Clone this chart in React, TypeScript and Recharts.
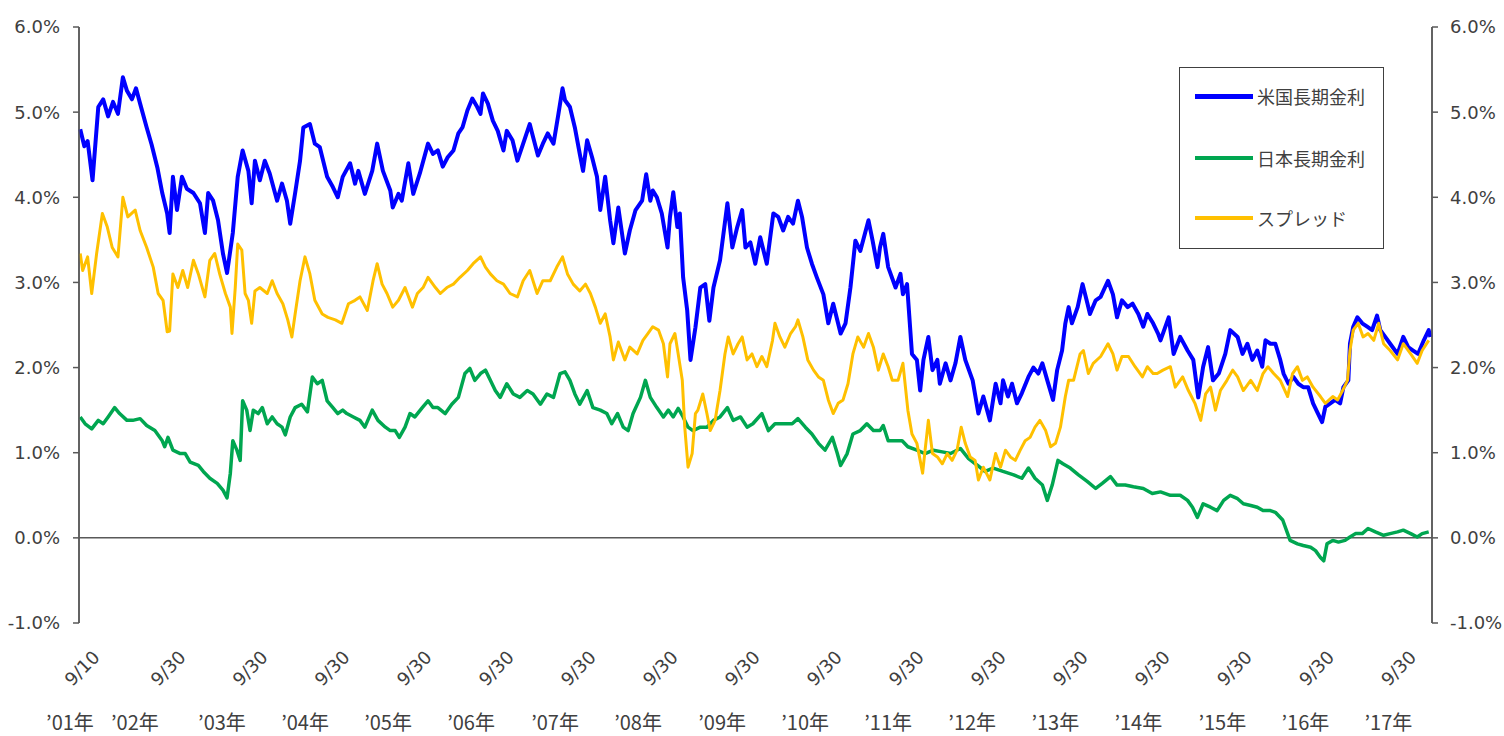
import React from "react";
import { LineChart, Line, XAxis, YAxis, ReferenceLine, Legend } from "recharts";

// 米国長期金利 [year, %]
const usRates: [number, number][] = [
  [2001.68, 4.8], [2001.73, 4.6], [2001.77, 4.66], [2001.83, 4.2], [2001.9, 5.06], [2001.96, 5.15],
  [2002.02, 4.95], [2002.08, 5.12], [2002.14, 4.98], [2002.2, 5.41], [2002.25, 5.25], [2002.31, 5.15],
  [2002.36, 5.28], [2002.41, 5.1], [2002.49, 4.82], [2002.55, 4.62], [2002.62, 4.35], [2002.68, 4.05],
  [2002.74, 3.81], [2002.77, 3.58], [2002.81, 4.24], [2002.86, 3.85], [2002.92, 4.24], [2002.98, 4.1],
  [2003.06, 4.05], [2003.14, 3.93], [2003.2, 3.58], [2003.24, 4.05], [2003.3, 3.96], [2003.36, 3.73],
  [2003.42, 3.34], [2003.47, 3.11], [2003.54, 3.58], [2003.6, 4.24], [2003.66, 4.55], [2003.73, 4.31],
  [2003.77, 3.93], [2003.81, 4.43], [2003.87, 4.2], [2003.93, 4.43], [2003.99, 4.28], [2004.08, 3.96],
  [2004.14, 4.16], [2004.2, 3.96], [2004.24, 3.69], [2004.3, 4.05], [2004.36, 4.43], [2004.4, 4.82],
  [2004.48, 4.86], [2004.54, 4.63], [2004.6, 4.59], [2004.69, 4.24], [2004.76, 4.12], [2004.82, 4.0],
  [2004.88, 4.24], [2004.97, 4.4], [2005.03, 4.16], [2005.07, 4.31], [2005.15, 4.04], [2005.24, 4.31],
  [2005.3, 4.63], [2005.37, 4.31], [2005.46, 4.08], [2005.49, 3.88], [2005.56, 4.04], [2005.6, 3.96],
  [2005.68, 4.4], [2005.74, 4.04], [2005.82, 4.28], [2005.92, 4.63], [2005.98, 4.51], [2006.04, 4.55],
  [2006.1, 4.36], [2006.16, 4.47], [2006.23, 4.55], [2006.29, 4.75], [2006.34, 4.82], [2006.4, 5.02],
  [2006.46, 5.16], [2006.52, 5.06], [2006.56, 4.98], [2006.59, 5.22], [2006.65, 5.1], [2006.71, 4.9],
  [2006.77, 4.78], [2006.84, 4.55], [2006.88, 4.78], [2006.95, 4.67], [2007.01, 4.43], [2007.08, 4.63],
  [2007.16, 4.86], [2007.2, 4.71], [2007.26, 4.49], [2007.32, 4.63], [2007.38, 4.75], [2007.45, 4.63],
  [2007.51, 4.98], [2007.56, 5.28], [2007.59, 5.14], [2007.65, 5.06], [2007.71, 4.82], [2007.77, 4.51],
  [2007.81, 4.31], [2007.86, 4.67], [2007.92, 4.47], [2007.98, 4.24], [2008.02, 3.85], [2008.08, 4.24],
  [2008.14, 3.73], [2008.18, 3.46], [2008.24, 3.88], [2008.32, 3.34], [2008.38, 3.61], [2008.45, 3.85],
  [2008.53, 3.96], [2008.58, 4.27], [2008.63, 3.96], [2008.66, 4.08], [2008.71, 4.0], [2008.77, 3.81],
  [2008.84, 3.41], [2008.87, 3.77], [2008.91, 4.06], [2008.96, 3.65], [2008.99, 3.81], [2009.03, 3.06],
  [2009.08, 2.67], [2009.12, 2.09], [2009.18, 2.47], [2009.24, 2.94], [2009.3, 2.98], [2009.35, 2.55],
  [2009.4, 2.94], [2009.48, 3.26], [2009.57, 3.93], [2009.63, 3.41], [2009.69, 3.65], [2009.75, 3.85],
  [2009.79, 3.41], [2009.85, 3.47], [2009.91, 3.22], [2009.97, 3.53], [2010.05, 3.22], [2010.13, 3.81],
  [2010.19, 3.77], [2010.25, 3.61], [2010.31, 3.77], [2010.37, 3.69], [2010.43, 3.96], [2010.48, 3.77],
  [2010.54, 3.41], [2010.6, 3.22], [2010.66, 3.06], [2010.74, 2.86], [2010.8, 2.52], [2010.86, 2.75],
  [2010.95, 2.4], [2011.01, 2.52], [2011.07, 2.94], [2011.13, 3.49], [2011.19, 3.37], [2011.29, 3.73],
  [2011.34, 3.49], [2011.4, 3.18], [2011.43, 3.41], [2011.47, 3.57], [2011.53, 3.18], [2011.62, 2.94],
  [2011.68, 3.1], [2011.71, 2.86], [2011.76, 2.98], [2011.82, 2.16], [2011.88, 2.09], [2011.92, 1.73],
  [2011.96, 2.09], [2012.02, 2.36], [2012.07, 1.97], [2012.13, 2.09], [2012.16, 1.81], [2012.23, 2.05],
  [2012.29, 1.85], [2012.35, 2.05], [2012.41, 2.36], [2012.47, 2.09], [2012.56, 1.85], [2012.63, 1.46],
  [2012.69, 1.66], [2012.77, 1.38], [2012.84, 1.81], [2012.9, 1.58], [2012.93, 1.85], [2012.99, 1.66],
  [2013.04, 1.81], [2013.1, 1.58], [2013.16, 1.7], [2013.24, 1.89], [2013.3, 2.0], [2013.36, 1.93],
  [2013.41, 2.05], [2013.47, 1.85], [2013.54, 1.62], [2013.59, 1.97], [2013.65, 2.2], [2013.69, 2.52],
  [2013.73, 2.71], [2013.77, 2.52], [2013.84, 2.71], [2013.9, 2.98], [2013.96, 2.75], [2013.99, 2.63],
  [2014.06, 2.79], [2014.12, 2.83], [2014.21, 3.02], [2014.27, 2.86], [2014.32, 2.59], [2014.38, 2.79],
  [2014.45, 2.71], [2014.51, 2.75], [2014.58, 2.63], [2014.64, 2.48], [2014.69, 2.63], [2014.76, 2.52],
  [2014.82, 2.4], [2014.85, 2.32], [2014.95, 2.59], [2015.01, 2.16], [2015.09, 2.36], [2015.18, 2.2],
  [2015.25, 2.09], [2015.31, 1.65], [2015.37, 2.01], [2015.43, 2.24], [2015.49, 1.85], [2015.56, 1.93],
  [2015.64, 2.16], [2015.7, 2.44], [2015.79, 2.36], [2015.85, 2.16], [2015.91, 2.28], [2015.97, 2.09],
  [2016.03, 2.2], [2016.09, 2.01], [2016.13, 2.32], [2016.19, 2.28], [2016.25, 2.28], [2016.31, 2.09],
  [2016.35, 1.93], [2016.41, 1.81], [2016.47, 1.89], [2016.53, 1.81], [2016.59, 1.77], [2016.65, 1.77],
  [2016.71, 1.58], [2016.77, 1.46], [2016.82, 1.36], [2016.86, 1.54], [2016.92, 1.58], [2016.98, 1.62],
  [2017.04, 1.58], [2017.08, 1.77], [2017.14, 1.85], [2017.16, 2.28], [2017.2, 2.48], [2017.25, 2.59],
  [2017.31, 2.52], [2017.37, 2.48], [2017.43, 2.44], [2017.49, 2.61], [2017.53, 2.44], [2017.59, 2.36],
  [2017.65, 2.28], [2017.74, 2.16], [2017.81, 2.36], [2017.87, 2.24], [2017.93, 2.2], [2017.99, 2.16],
  [2018.06, 2.32], [2018.12, 2.44], [2018.14, 2.36],
];

// 日本長期金利 [year, %]
const jpRates: [number, number][] = [
  [2001.68, 1.42], [2001.74, 1.34], [2001.82, 1.28], [2001.9, 1.38], [2001.96, 1.34], [2002.02, 1.42],
  [2002.1, 1.53], [2002.16, 1.46], [2002.25, 1.38], [2002.32, 1.38], [2002.41, 1.4], [2002.49, 1.32],
  [2002.59, 1.26], [2002.68, 1.14], [2002.71, 1.07], [2002.75, 1.18], [2002.81, 1.03], [2002.9, 0.99],
  [2002.96, 0.99], [2003.02, 0.89], [2003.12, 0.85], [2003.18, 0.78], [2003.26, 0.7], [2003.35, 0.64],
  [2003.42, 0.56], [2003.47, 0.47], [2003.51, 0.76], [2003.54, 1.14], [2003.59, 1.03], [2003.63, 0.91],
  [2003.66, 1.61], [2003.71, 1.5], [2003.75, 1.26], [2003.79, 1.5], [2003.85, 1.46], [2003.9, 1.53],
  [2003.96, 1.34], [2004.02, 1.42], [2004.08, 1.34], [2004.14, 1.3], [2004.18, 1.21], [2004.24, 1.42],
  [2004.3, 1.53], [2004.38, 1.57], [2004.45, 1.48], [2004.51, 1.89], [2004.57, 1.81], [2004.63, 1.85],
  [2004.69, 1.61], [2004.76, 1.53], [2004.82, 1.46], [2004.88, 1.5], [2004.93, 1.46], [2005.01, 1.42],
  [2005.09, 1.38], [2005.15, 1.3], [2005.24, 1.5], [2005.31, 1.38], [2005.4, 1.3], [2005.46, 1.26],
  [2005.52, 1.26], [2005.57, 1.18], [2005.64, 1.3], [2005.7, 1.46], [2005.76, 1.42], [2005.85, 1.53],
  [2005.92, 1.61], [2005.98, 1.53], [2006.04, 1.53], [2006.13, 1.46], [2006.21, 1.57], [2006.29, 1.65],
  [2006.37, 1.93], [2006.43, 1.99], [2006.49, 1.85], [2006.56, 1.93], [2006.62, 1.97], [2006.68, 1.85],
  [2006.74, 1.73], [2006.8, 1.65], [2006.88, 1.81], [2006.96, 1.69], [2007.04, 1.65], [2007.13, 1.73],
  [2007.2, 1.69], [2007.29, 1.57], [2007.37, 1.69], [2007.45, 1.65], [2007.53, 1.93], [2007.59, 1.95],
  [2007.65, 1.85], [2007.71, 1.69], [2007.77, 1.57], [2007.86, 1.73], [2007.93, 1.53], [2008.02, 1.5],
  [2008.1, 1.46], [2008.16, 1.34], [2008.23, 1.46], [2008.3, 1.3], [2008.36, 1.26], [2008.42, 1.46],
  [2008.51, 1.65], [2008.57, 1.85], [2008.63, 1.65], [2008.71, 1.53], [2008.79, 1.42], [2008.85, 1.5],
  [2008.91, 1.42], [2008.97, 1.52], [2009.03, 1.42], [2009.09, 1.3], [2009.15, 1.26], [2009.24, 1.3],
  [2009.32, 1.3], [2009.4, 1.38], [2009.48, 1.42], [2009.57, 1.53], [2009.64, 1.38], [2009.73, 1.42],
  [2009.81, 1.3], [2009.88, 1.34], [2009.99, 1.46], [2010.07, 1.26], [2010.15, 1.34], [2010.25, 1.34],
  [2010.36, 1.34], [2010.43, 1.4], [2010.52, 1.3], [2010.6, 1.22], [2010.68, 1.11], [2010.76, 1.03],
  [2010.85, 1.18], [2010.91, 0.99], [2010.95, 0.85], [2011.03, 0.99], [2011.1, 1.22], [2011.19, 1.26],
  [2011.27, 1.34], [2011.35, 1.26], [2011.43, 1.26], [2011.47, 1.32], [2011.53, 1.14], [2011.62, 1.14],
  [2011.7, 1.14], [2011.77, 1.07], [2011.88, 1.03], [2011.98, 0.99], [2012.08, 1.03], [2012.19, 1.01],
  [2012.29, 0.99], [2012.41, 1.05], [2012.51, 0.93], [2012.62, 0.85], [2012.71, 0.78], [2012.81, 0.82],
  [2012.93, 0.78], [2013.06, 0.74], [2013.16, 0.7], [2013.24, 0.82], [2013.32, 0.7], [2013.41, 0.62],
  [2013.47, 0.44], [2013.53, 0.62], [2013.6, 0.91], [2013.66, 0.87], [2013.75, 0.82], [2013.85, 0.74],
  [2013.96, 0.66], [2014.06, 0.58], [2014.14, 0.64], [2014.24, 0.72], [2014.32, 0.62], [2014.42, 0.62],
  [2014.52, 0.6], [2014.64, 0.58], [2014.75, 0.52], [2014.85, 0.54], [2014.97, 0.5], [2015.09, 0.5],
  [2015.18, 0.44], [2015.24, 0.36], [2015.3, 0.24], [2015.37, 0.4], [2015.46, 0.36], [2015.54, 0.32],
  [2015.62, 0.44], [2015.7, 0.5], [2015.79, 0.46], [2015.86, 0.4], [2015.95, 0.38], [2016.03, 0.36],
  [2016.1, 0.32], [2016.19, 0.32], [2016.25, 0.3], [2016.34, 0.21], [2016.4, 0.05], [2016.43, -0.03],
  [2016.52, -0.07], [2016.59, -0.09], [2016.68, -0.11], [2016.74, -0.15], [2016.8, -0.23], [2016.84, -0.27],
  [2016.88, -0.07], [2016.95, -0.03], [2017.02, -0.05], [2017.1, -0.03], [2017.16, 0.01], [2017.23, 0.05],
  [2017.31, 0.05], [2017.38, 0.11], [2017.47, 0.07], [2017.57, 0.03], [2017.65, 0.05], [2017.74, 0.07],
  [2017.81, 0.09], [2017.9, 0.05], [2017.98, 0.01], [2018.04, 0.05], [2018.12, 0.07],
];

// スプレッド [year, %] (secondary axis)
const spreadRates: [number, number][] = [
  [2001.68, 3.34], [2001.71, 3.14], [2001.77, 3.3], [2001.82, 2.87], [2001.88, 3.34], [2001.95, 3.81],
  [2002.01, 3.65], [2002.07, 3.41], [2002.14, 3.3], [2002.2, 4.0], [2002.26, 3.77], [2002.35, 3.85],
  [2002.41, 3.61], [2002.49, 3.41], [2002.57, 3.18], [2002.63, 2.87], [2002.69, 2.79], [2002.74, 2.42],
  [2002.77, 2.43], [2002.81, 3.1], [2002.87, 2.94], [2002.93, 3.14], [2002.99, 2.94], [2003.06, 3.26],
  [2003.12, 3.1], [2003.2, 2.83], [2003.26, 3.26], [2003.32, 3.34], [2003.38, 3.1], [2003.45, 2.87],
  [2003.51, 2.71], [2003.53, 2.4], [2003.57, 2.94], [2003.6, 3.45], [2003.65, 3.38], [2003.69, 2.87],
  [2003.73, 2.79], [2003.77, 2.52], [2003.81, 2.9], [2003.87, 2.94], [2003.96, 2.87], [2004.02, 3.02],
  [2004.08, 2.87], [2004.15, 2.75], [2004.21, 2.56], [2004.26, 2.36], [2004.3, 2.63], [2004.36, 3.02],
  [2004.42, 3.3], [2004.48, 3.1], [2004.54, 2.79], [2004.63, 2.63], [2004.7, 2.59], [2004.79, 2.56],
  [2004.87, 2.52], [2004.95, 2.75], [2005.03, 2.79], [2005.09, 2.83], [2005.18, 2.67], [2005.25, 3.02],
  [2005.3, 3.22], [2005.36, 2.98], [2005.42, 2.87], [2005.49, 2.71], [2005.56, 2.79], [2005.64, 2.94],
  [2005.73, 2.71], [2005.79, 2.87], [2005.86, 2.94], [2005.92, 3.06], [2006.01, 2.94], [2006.07, 2.87],
  [2006.15, 2.94], [2006.23, 2.98], [2006.31, 3.06], [2006.4, 3.14], [2006.47, 3.22], [2006.56, 3.3],
  [2006.62, 3.18], [2006.68, 3.1], [2006.76, 3.02], [2006.84, 2.98], [2006.92, 2.87], [2007.01, 2.83],
  [2007.08, 3.02], [2007.16, 3.14], [2007.25, 2.87], [2007.32, 3.02], [2007.41, 3.02], [2007.49, 3.18],
  [2007.56, 3.3], [2007.62, 3.1], [2007.69, 2.98], [2007.77, 2.9], [2007.84, 2.98], [2007.9, 2.87],
  [2007.96, 2.71], [2008.02, 2.52], [2008.08, 2.63], [2008.14, 2.36], [2008.18, 2.09], [2008.24, 2.3],
  [2008.32, 2.09], [2008.38, 2.24], [2008.47, 2.16], [2008.54, 2.32], [2008.6, 2.4], [2008.66, 2.48],
  [2008.73, 2.44], [2008.79, 2.28], [2008.84, 1.89], [2008.87, 2.28], [2008.93, 2.4], [2008.97, 2.16],
  [2009.02, 1.85], [2009.05, 1.3], [2009.09, 0.83], [2009.14, 0.99], [2009.18, 1.46], [2009.21, 1.5],
  [2009.27, 1.69], [2009.32, 1.46], [2009.36, 1.26], [2009.42, 1.38], [2009.48, 1.73], [2009.54, 2.16],
  [2009.58, 2.36], [2009.64, 2.16], [2009.7, 2.28], [2009.75, 2.36], [2009.81, 2.09], [2009.87, 2.16],
  [2009.93, 2.01], [2009.99, 2.13], [2010.05, 2.01], [2010.12, 2.32], [2010.15, 2.52], [2010.21, 2.36],
  [2010.27, 2.24], [2010.34, 2.4], [2010.4, 2.48], [2010.43, 2.56], [2010.49, 2.36], [2010.55, 2.09],
  [2010.62, 1.97], [2010.68, 1.89], [2010.74, 1.85], [2010.8, 1.62], [2010.86, 1.46], [2010.92, 1.58],
  [2010.98, 1.62], [2011.04, 1.81], [2011.1, 2.16], [2011.16, 2.36], [2011.23, 2.24], [2011.29, 2.4],
  [2011.35, 2.24], [2011.41, 1.97], [2011.47, 2.16], [2011.53, 2.01], [2011.58, 1.85], [2011.65, 1.85],
  [2011.71, 2.05], [2011.77, 1.5], [2011.82, 1.22], [2011.88, 1.11], [2011.95, 0.76], [2011.98, 1.03],
  [2012.02, 1.38], [2012.07, 0.99], [2012.13, 0.95], [2012.19, 0.87], [2012.25, 0.99], [2012.31, 0.91],
  [2012.37, 1.03], [2012.42, 1.3], [2012.47, 1.11], [2012.53, 0.95], [2012.59, 0.91], [2012.63, 0.68],
  [2012.69, 0.83], [2012.77, 0.68], [2012.84, 0.99], [2012.9, 0.83], [2012.96, 1.03], [2013.02, 0.95],
  [2013.08, 0.91], [2013.14, 1.03], [2013.2, 1.14], [2013.26, 1.18], [2013.32, 1.3], [2013.38, 1.38],
  [2013.45, 1.26], [2013.51, 1.07], [2013.57, 1.11], [2013.63, 1.3], [2013.69, 1.66], [2013.73, 1.85],
  [2013.79, 1.85], [2013.87, 2.16], [2013.91, 2.2], [2013.97, 1.93], [2014.03, 2.05], [2014.12, 2.13],
  [2014.21, 2.28], [2014.27, 2.16], [2014.32, 1.97], [2014.38, 2.13], [2014.46, 2.13], [2014.54, 2.01],
  [2014.63, 1.89], [2014.69, 2.01], [2014.76, 1.93], [2014.81, 1.93], [2014.88, 1.97], [2014.97, 2.01],
  [2015.03, 1.77], [2015.12, 1.89], [2015.19, 1.73], [2015.27, 1.58], [2015.34, 1.38], [2015.4, 1.69],
  [2015.46, 1.77], [2015.52, 1.5], [2015.58, 1.73], [2015.66, 1.85], [2015.73, 1.97], [2015.79, 1.89],
  [2015.86, 1.73], [2015.95, 1.85], [2016.03, 1.73], [2016.1, 1.93], [2016.16, 2.01], [2016.23, 1.93],
  [2016.31, 1.85], [2016.4, 1.66], [2016.46, 1.93], [2016.52, 2.01], [2016.58, 1.85], [2016.64, 1.89],
  [2016.71, 1.77], [2016.8, 1.66], [2016.86, 1.58], [2016.95, 1.66], [2017.01, 1.62], [2017.07, 1.73],
  [2017.13, 1.85], [2017.16, 2.2], [2017.2, 2.44], [2017.26, 2.52], [2017.32, 2.36], [2017.38, 2.4],
  [2017.45, 2.32], [2017.51, 2.52], [2017.57, 2.28], [2017.65, 2.2], [2017.74, 2.09], [2017.81, 2.28],
  [2017.9, 2.16], [2017.98, 2.05], [2018.04, 2.2], [2018.12, 2.32],
];

// x-axis labels: dates (rotated) and years (second row)
const dateTicks = [2001.7, 2002.75, 2003.75, 2004.75, 2005.75, 2006.75, 2007.75, 2008.75, 2009.75,
  2010.75, 2011.75, 2012.75, 2013.75, 2014.75, 2015.75, 2016.75, 2017.75];
const dateTickLabels = ["9/10", "9/30", "9/30", "9/30", "9/30", "9/30", "9/30", "9/30", "9/30",
  "9/30", "9/30", "9/30", "9/30", "9/30", "9/30", "9/30", "9/30"];
const yearTicks = [2001.555, 2002.347, 2003.408, 2004.421, 2005.433, 2006.445, 2007.469, 2008.481,
  2009.506, 2010.518, 2011.53, 2012.555, 2013.567, 2014.579, 2015.603, 2016.616, 2017.628];
const yearLabels = ["’01年", "’02年", "’03年", "’04年", "’05年", "’06年", "’07年", "’08年", "’09年",
  "’10年", "’11年", "’12年", "’13年", "’14年", "’15年", "’16年", "’17年"];
const yTicks = [-1, 0, 1, 2, 3, 4, 5, 6];

const series = [
  { name: "米国長期金利", data: usRates, axis: "left", color: "#0000ff", width: 4, legendWidth: 5 },
  { name: "日本長期金利", data: jpRates, axis: "left", color: "#00a650", width: 3.5, legendWidth: 4 },
  { name: "スプレッド", data: spreadRates, axis: "right", color: "#ffc000", width: 3, legendWidth: 4 },
];

const allXTicks = [...dateTicks, ...yearTicks].sort((a, b) => a - b);

const X_DOMAIN: [number, number] = [2001.665, 2018.16];
const Y_DOMAIN: [number, number] = [-1, 6];
const AXIS_COLOR = "#595959";
const TEXT_COLOR = "#404040";
const NUM_FONT = "DejaVu Sans, Verdana, sans-serif";
const JP_FONT = "'Noto Sans CJK JP', sans-serif";

const fmtPct = (v: number) => `${v.toFixed(1)}%`;

const XTick = (props: any) => {
  const { x, y, payload } = props;
  const di = dateTicks.indexOf(payload.value);
  if (di >= 0) {
    return (
      <g transform={`translate(${x},${y + 45})`}>
        <text
          transform="rotate(-45)"
          textAnchor="middle"
          dominantBaseline="central"
          fontFamily={NUM_FONT}
          fontSize={18}
          fill={TEXT_COLOR}
        >
          {dateTickLabels[di]}
        </text>
      </g>
    );
  }
  const yi = yearTicks.indexOf(payload.value);
  return (
    <text
      x={x}
      y={y + 98}
      textAnchor="middle"
      dominantBaseline="central"
      fontFamily={JP_FONT}
      fontSize={20}
      fill={TEXT_COLOR}
    >
      {yearLabels[yi]}
    </text>
  );
};

// y ticks: draw the small outward tick mark and the label
const LeftTick = (props: any) => {
  const { x, y, payload } = props;
  return (
    <g>
      <line x1={x - 6} x2={x} y1={y} y2={y} stroke={AXIS_COLOR} strokeWidth={1.5} />
      <text x={x - 19} y={y} dy="0.36em" textAnchor="end" fontFamily={NUM_FONT} fontSize={18} fill={TEXT_COLOR}>
        {fmtPct(payload.value)}
      </text>
    </g>
  );
};

const RightTick = (props: any) => {
  const { x, y, payload } = props;
  return (
    <g>
      <line x1={x} x2={x + 6} y1={y} y2={y} stroke={AXIS_COLOR} strokeWidth={1.5} />
      <text x={x + 18} y={y} dy="0.36em" textAnchor="start" fontFamily={NUM_FONT} fontSize={18} fill={TEXT_COLOR}>
        {fmtPct(payload.value)}
      </text>
    </g>
  );
};

const rowTops = [28, 90, 150];

const LegendBox = () => (
  <div
    style={{
      width: 205,
      height: 182,
      border: "1.5px solid #404040",
      boxSizing: "border-box",
      position: "relative",
      background: "#fff",
    }}
  >
    {series.map((s, i) => (
      <div
        key={s.name}
        style={{
          position: "absolute",
          left: 15,
          top: rowTops[i] - 13,
          height: 26,
          display: "flex",
          alignItems: "center",
        }}
      >
        <span style={{ display: "inline-block", width: 58, height: s.legendWidth, background: s.color }} />
        <span
          style={{
            marginLeft: 4,
            fontSize: 18,
            fontFamily: JP_FONT,
            color: TEXT_COLOR,
            whiteSpace: "nowrap",
          }}
        >
          {s.name}
        </span>
      </div>
    ))}
  </div>
);

export default function App() {
  return (
    <div style={{ width: 1504, height: 736, overflow: "hidden" }}>
      <style>{"body{margin:0}"}</style>
      <LineChart width={1504} height={736} margin={{ top: 27, right: 0, bottom: 0, left: 0 }}>
        <XAxis
          xAxisId="date"
          type="number"
          dataKey="t"
          domain={X_DOMAIN}
          ticks={allXTicks}
          interval={0}
          height={113}
          axisLine={false}
          tickLine={false}
          tickSize={0}
          tickMargin={0}
          tick={<XTick />}
        />
        <YAxis
          yAxisId="left"
          orientation="left"
          domain={Y_DOMAIN}
          ticks={yTicks}
          interval={0}
          width={79}
          stroke={AXIS_COLOR}
          tickSize={0}
          tickMargin={0}
          tickLine={false}
          axisLine={{ stroke: AXIS_COLOR, strokeWidth: 1.5 }}
          tick={<LeftTick />}
        />
        <YAxis
          yAxisId="right"
          orientation="right"
          domain={Y_DOMAIN}
          ticks={yTicks}
          interval={0}
          width={72}
          stroke={AXIS_COLOR}
          tickSize={0}
          tickMargin={0}
          tickLine={false}
          axisLine={{ stroke: AXIS_COLOR, strokeWidth: 1.5 }}
          tick={<RightTick />}
        />
        <ReferenceLine yAxisId="left" xAxisId="date" x={X_DOMAIN[0]} stroke={AXIS_COLOR} strokeWidth={1.5} />
        <ReferenceLine yAxisId="left" xAxisId="date" x={X_DOMAIN[1]} stroke={AXIS_COLOR} strokeWidth={1.5} />
        <ReferenceLine yAxisId="left" xAxisId="date" y={0} stroke={AXIS_COLOR} strokeWidth={1.5} />
        {series.map((s) => (
          <Line
            key={s.name}
            xAxisId="date"
            yAxisId={s.axis}
            name={s.name}
            data={s.data.map(([t, v]) => ({ t, v }))}
            dataKey="v"
            type="linear"
            stroke={s.color}
            strokeWidth={s.width}
            strokeLinejoin="round"
            dot={false}
            activeDot={false}
            isAnimationActive={false}
          />
        ))}
        <Legend
          layout="horizontal"
          verticalAlign="middle"
          align="center"
          content={<LegendBox />}
          wrapperStyle={{ position: "absolute", left: 1179, top: 67, width: 205, height: 182 }}
        />
      </LineChart>
    </div>
  );
}
